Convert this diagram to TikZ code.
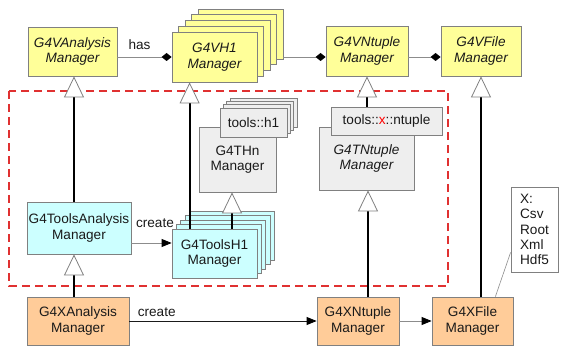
\documentclass[tikz,border=0pt]{standalone}
\usepackage{fontspec}
\setmainfont{Liberation Sans}
\usetikzlibrary{arrows.meta}
\definecolor{umlyellow}{HTML}{FFFF99}
\definecolor{umlcyan}{HTML}{CCFFFF}
\definecolor{umlgrey}{HTML}{EEEEEE}
\definecolor{umlorange}{HTML}{FFCC99}
\definecolor{umlborder}{HTML}{808080}
\definecolor{umlline}{HTML}{8C8C8C}
\definecolor{umlink}{HTML}{1A1A1A}
\definecolor{umlred}{HTML}{E03131}
\newcommand\umlsize{\fontsize{13.6}{15.4}\selectfont}
\tikzset{
  cls/.style={draw=umlborder,line width=.8pt,inner sep=0pt,align=center,text=umlink,font=\umlsize},
  abstractcls/.style={cls,fill=umlyellow,font=\umlsize\itshape},
  toolscls/.style={cls,fill=umlcyan},
  toolsbase/.style={cls,fill=umlgrey},
  concretecls/.style={cls,fill=umlorange},
  notebox/.style={draw=umlborder,line width=.8pt,fill=white,inner sep=0pt,align=left,text=umlink,font=\umlsize},
  package/.style={draw=umlred,line width=1.8pt,dash pattern=on 8pt off 5pt},
  inherit/.style={draw=black,line width=2pt,-{Triangle[length=21pt,width=20pt,fill=white,color=umlborder,line width'=.8pt]}},
  aggregate/.style={draw=umlline,line width=.8pt,-{Diamond[length=10pt,width=8pt,color=black,fill=black]}},
  usearrow/.style={draw=umlline,line width=.8pt,-{Triangle[length=10pt,width=8pt,color=black,fill=black]}},
  callarrow/.style={draw=umlink,line width=.8pt,-{Triangle[length=10pt,width=8pt,color=black,fill=black]}},
  noteline/.style={draw=umlline,line width=.6pt},
  edgelabel/.style={font=\umlsize,text=umlink,inner sep=0pt,anchor=base},
}

\begin{document}
\begin{tikzpicture}[x=1pt,y=-1pt]
  \useasboundingbox (0,0) rectangle (561,347);
  \draw[package] (9,91) rectangle (448,286);

  % interfaces
  \node[abstractcls,minimum width=89pt,minimum height=49pt] (vam) at (72.5,51.5) {G4VAnalysis\\Manager};
  \foreach \k in {4,3,2,1}
    \node[abstractcls,minimum width=85pt,minimum height=50pt] (vh1c\k) at (214.5+6.5*\k,57-5.75*\k) {};
  \node[abstractcls,minimum width=85pt,minimum height=50pt] (vh1) at (214.5,57) {G4VH1\\Manager};
  \node[abstractcls,minimum width=82pt,minimum height=50pt] (vnt) at (367,51) {G4VNtuple\\Manager};
  \node[abstractcls,minimum width=80pt,minimum height=50pt] (vfm) at (481,51) {G4VFile\\Manager};

  % tools implementation
  \node[toolscls,minimum width=104pt,minimum height=52pt] (tam) at (79,228) {G4ToolsAnalysis\\Manager};
  \node[toolsbase,minimum width=77pt,minimum height=65pt] (thn) at (237.5,159.5) {G4THn\\Manager};
  \foreach \k in {3,2,1}
    \node[toolsbase,minimum width=67pt,minimum height=29pt] (thtc\k) at (253.5+3.3*\k,122.5-3.3*\k) {};
  \node[toolsbase,minimum width=67pt,minimum height=29pt] (tht) at (253.5,122.5) {tools::h1};
  \node[toolsbase,minimum width=95pt,minimum height=63pt,font=\umlsize\itshape] (tnm) at (366.5,158.5) {G4TNtuple\\Manager};
  \node[toolsbase,minimum width=111pt,minimum height=28pt] (txn) at (386.5,121) {tools::\textcolor{red}{x}::ntuple};
  \foreach \k in {4,3,2,1}
    \node[toolscls,minimum width=85pt,minimum height=49pt] (th1c\k) at (214.5+4.3*\k,253.5-4.5*\k) {};
  \node[toolscls,minimum width=85pt,minimum height=49pt] (th1) at (214.5,253.5) {G4ToolsH1\\Manager};

  % output types
  \node[concretecls,minimum width=102pt,minimum height=48pt] (xam) at (78,321) {G4XAnalysis\\Manager};
  \node[concretecls,minimum width=82pt,minimum height=48pt] (xnt) at (358,321) {G4XNtuple\\Manager};
  \node[concretecls,minimum width=81pt,minimum height=48pt] (xfm) at (472.5,321) {G4XFile\\Manager};
  \node[notebox,minimum width=47pt,minimum height=85pt] (note) at (534.5,229.5) {X:\\Csv\\Root\\Xml\\Hdf5};

  \draw[aggregate] (vam.east |- vh1.west) -- (vh1.west)
    node[edgelabel,midway,xshift=-5pt,yshift=7pt] {has};
  \draw[aggregate] (vh1c4.east |- vh1.east) -- (vnt.west |- vh1.east);
  \draw[aggregate] (vnt.east |- vh1.east) -- (vfm.west |- vh1.east);

  \coordinate (vamfoot) at ([xshift=1.5pt]vam.south);
  \draw[inherit] (tam.north -| vamfoot) -- (vamfoot);
  \draw[inherit] (xam.north -| vamfoot) -- (vamfoot |- tam.south);
  \draw[inherit] ([xshift=18pt]th1.north west) -- ([xshift=18pt]vh1.south west);
  \coordinate (thnfoot) at ([xshift=-5.5pt]thn.south);
  \draw[inherit] (th1.north -| thnfoot) -- (thnfoot);
  \draw[inherit] (txn.north -| vnt.south) -- (vnt.south);
  \coordinate (tnmfoot) at ([xshift=1.5pt]tnm.south);
  \draw[inherit] (xnt.north -| tnmfoot) -- (tnmfoot);
  \draw[inherit] (xfm.north -| vfm.south) -- (vfm.south);

  \coordinate (th1in) at ([yshift=10.5pt]th1.west);
  \draw[usearrow] (tam.east |- th1in) -- (th1in)
    node[edgelabel,midway,xshift=3.5pt,yshift=16pt] {create};
  \draw[callarrow] (xam.east) -- (xnt.west)
    node[edgelabel,pos=0,anchor=base west,xshift=8pt,yshift=5pt] {create};
  \draw[usearrow] (xnt.east) -- (xfm.west);
  \draw[noteline] ([xshift=-18pt]xfm.north east) -- ([yshift=20pt]note.south west);
\end{tikzpicture}
\end{document}
